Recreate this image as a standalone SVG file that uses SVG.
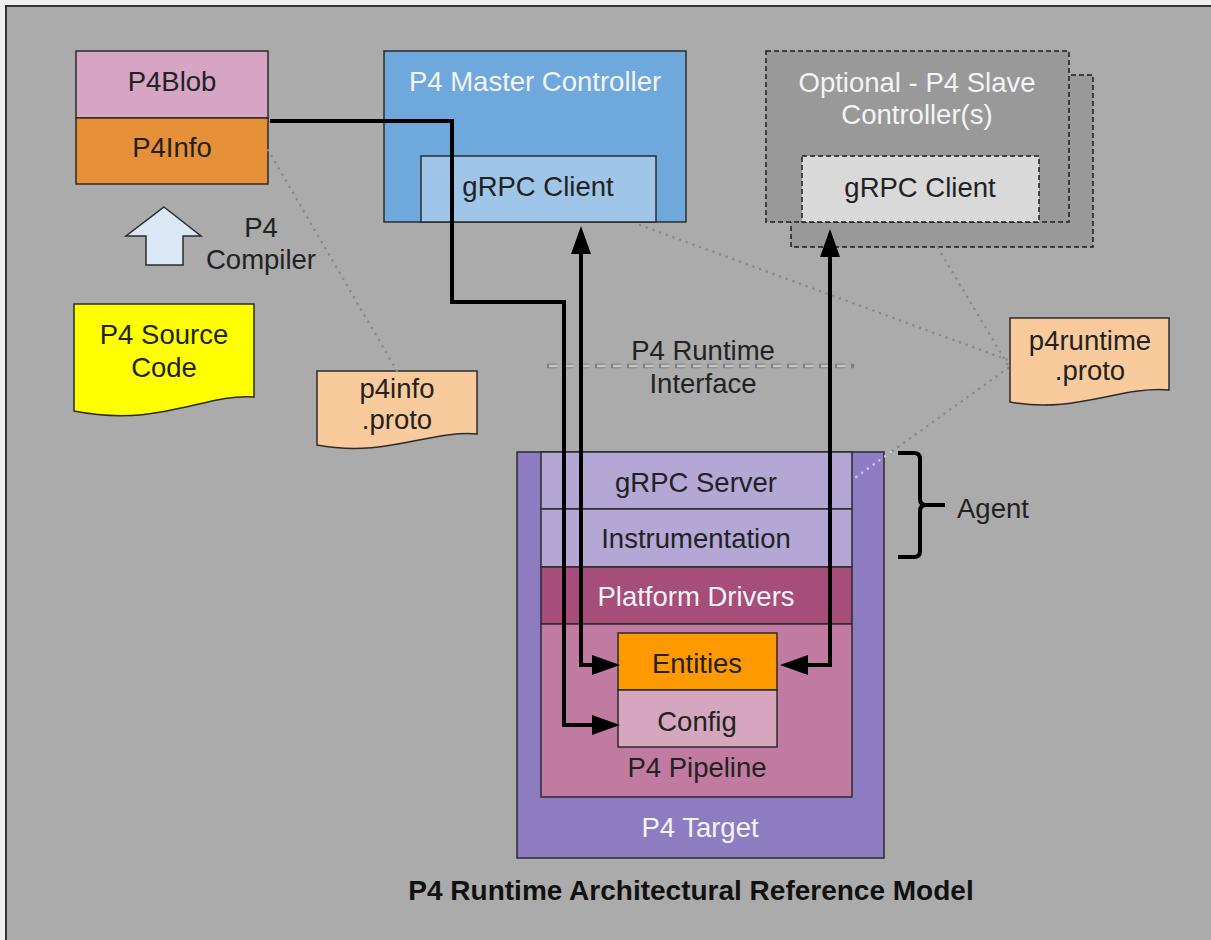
<svg xmlns="http://www.w3.org/2000/svg" width="1211" height="940" viewBox="0 0 1211 940">
  <style>
    text { font-family: "Liberation Sans", Arial, sans-serif; font-size: 27.5px; fill: #222; text-anchor: middle; }
    .light { fill: #f4f4f4; }
    .box { stroke: #2b2b2b; stroke-width: 1.5; }
    .dashbox { stroke: #1e1e1e; stroke-width: 1.5; stroke-dasharray: 5 3; }
    .wire { fill: none; stroke: #000; stroke-width: 4; stroke-linejoin: miter; }
    .dots { fill: none; stroke: #8a8a8a; stroke-width: 2.5; stroke-linecap: round; stroke-dasharray: 0.1 7; }
    .title { font-weight: bold; font-size: 28px; fill: #111; }
  </style>
  <defs>
    <marker id="head" viewBox="0 0 28 20" markerWidth="28" markerHeight="20" markerUnits="userSpaceOnUse" refX="20" refY="10" orient="auto-start-reverse">
      <path d="M0,0 L28,10 L0,20 Z" fill="#000"/>
    </marker>
  </defs>

  <!-- page and frame -->
  <rect x="0" y="0" width="1211" height="940" fill="#efefef"/>
  <rect x="6" y="6" width="1215" height="945" fill="#ababab" stroke="#333" stroke-width="2"/>

  <!-- compiled artefacts -->
  <g id="p4blob">
    <rect class="box" x="76" y="51" width="192" height="67" fill="#d5a5c3"/>
    <text x="172" y="91">P4Blob</text>
  </g>
  <g id="p4info">
    <rect class="box" x="76" y="118" width="192" height="66" fill="#e69138"/>
    <text x="172" y="157">P4Info</text>
  </g>

  <g id="p4-compiler">
    <path class="box" d="M164,207 L201,236 L183,236 L183,265 L146,265 L146,236 L126,236 Z" fill="#dbe7f4"/>
    <text x="261" y="237">P4</text>
    <text x="261" y="269">Compiler</text>
  </g>

  <g id="p4-source">
    <path class="box" d="M74,304 H254 V397 C205,393 160,428 74,411 Z" fill="#ffff00"/>
    <text x="164" y="344">P4 Source</text>
    <text x="164" y="377">Code</text>
  </g>

  <g id="p4info-proto">
    <path class="box" d="M317,371 H477 V434 C430,430 385,458 317,445 Z" fill="#f9cb9c"/>
    <text x="397" y="398">p4info</text>
    <text x="397" y="429">.proto</text>
  </g>

  <g id="p4runtime-proto">
    <path class="box" d="M1010,318 H1169 V390 C1120,386 1075,414 1010,402 Z" fill="#f9cb9c"/>
    <text x="1090" y="350">p4runtime</text>
    <text x="1090" y="380">.proto</text>
  </g>

  <!-- controllers -->
  <g id="master-controller">
    <rect class="box" x="384" y="51" width="302" height="171" fill="#6fa8dc"/>
    <text class="light" x="535" y="91">P4 Master Controller</text>
  </g>
  <g id="master-grpc-client">
    <rect class="box" x="421" y="156" width="235" height="66" fill="#9fc5e8"/>
    <text x="538" y="196">gRPC Client</text>
  </g>

  <g id="slave-controller">
    <rect class="dashbox" x="791" y="75" width="302" height="172" fill="#999"/>
    <rect class="dashbox" x="766" y="51" width="303" height="171" fill="#999"/>
    <text class="light" x="917" y="92">Optional - P4 Slave</text>
    <text class="light" x="917" y="124">Controller(s)</text>
  </g>
  <g id="slave-grpc-client">
    <rect class="dashbox" x="802" y="156" width="237" height="66" fill="#d9d9d9"/>
    <text x="920" y="197">gRPC Client</text>
  </g>

  <!-- switch stack -->
  <g id="p4-target">
    <rect class="box" x="517" y="452" width="367" height="406" fill="#8e7cc3"/>
    <text class="light" x="700" y="837">P4 Target</text>
  </g>
  <g id="grpc-server">
    <rect class="box" x="541" y="452" width="311" height="57" fill="#b4a7d6"/>
    <text x="696" y="492">gRPC Server</text>
  </g>
  <g id="instrumentation">
    <rect class="box" x="541" y="509" width="311" height="58" fill="#b4a7d6"/>
    <text x="696" y="548">Instrumentation</text>
  </g>
  <g id="platform-drivers">
    <rect class="box" x="541" y="567" width="311" height="57" fill="#a64d79"/>
    <text class="light" x="696" y="606">Platform Drivers</text>
  </g>
  <g id="p4-pipeline">
    <rect class="box" x="541" y="624" width="311" height="173" fill="#c27ba0"/>
    <text x="697" y="777">P4 Pipeline</text>
  </g>
  <g id="entities">
    <rect class="box" x="618" y="633" width="159" height="57" fill="#ff9900"/>
    <text x="697" y="673">Entities</text>
  </g>
  <g id="config">
    <rect class="box" x="618" y="690" width="159" height="57" fill="#d5a6bd"/>
    <text x="697" y="731">Config</text>
  </g>

  <g id="agent">
    <path d="M898,453 H914 Q920,453 920,459 V499 Q920,505 926,505 H945 M926,505 Q920,505 920,511 V551 Q920,557 914,557 H898" fill="none" stroke="#000" stroke-width="4"/>
    <text x="957" y="518" style="text-anchor:start">Agent</text>
  </g>

  <!-- runtime interface boundary -->
  <g id="runtime-interface">
    <line x1="547" y1="366" x2="854" y2="366" stroke="#7f7f7f" stroke-width="4.5" stroke-dasharray="10 6"/>
    <line x1="548" y1="366" x2="853" y2="366" stroke="#c6c6c6" stroke-width="2.5" stroke-dasharray="8 8" stroke-dashoffset="-1"/>
    <text x="703" y="360">P4 Runtime</text>
    <text x="703" y="393">Interface</text>
  </g>

  <g id="connectors">
    <!-- schema references -->
    <line class="dots" x1="268" y1="150" x2="397" y2="371"/>
    <line class="dots" x1="640" y1="225" x2="1008" y2="360"/>
    <line class="dots" x1="938" y1="248" x2="1008" y2="365"/>
    <line class="dots" x1="1008" y1="368" x2="891" y2="452"/>
    <line class="dots" x1="891" y1="452" x2="852" y2="480" style="stroke:#cfc8ec"/>
    <!-- forwarding-pipeline config push -->
    <path class="wire" d="M270,121 H452 V302 H564 V725 H612" marker-end="url(#head)"/>
    <!-- master read/write -->
    <path class="wire" d="M581,234 V665 H612" marker-start="url(#head)" marker-end="url(#head)"/>
    <!-- slave read/write -->
    <path class="wire" d="M830,237 V665 H788" marker-start="url(#head)" marker-end="url(#head)"/>
  </g>

  <text class="title" x="691" y="900">P4 Runtime Architectural Reference Model</text>
</svg>
